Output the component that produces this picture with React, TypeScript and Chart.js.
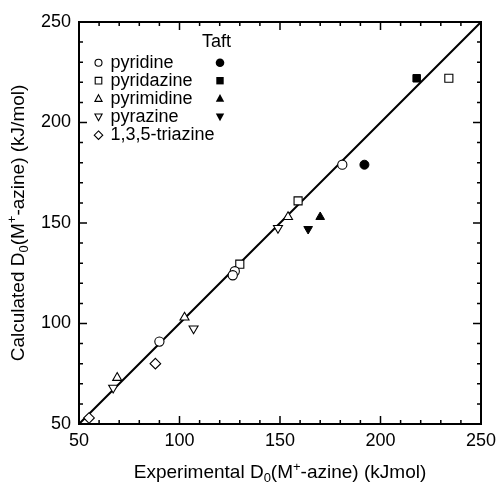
import React, { useEffect, useRef } from 'react';
import { Chart, registerables } from 'chart.js';

Chart.register(...registerables);

// Open markers: calculated vs experimental
const pyridineX = [127.5, 90, 126.5, 181];
const pyridineY = [126, 91, 124, 179];
const pyridazineX = [130, 159, 234];
const pyridazineY = [129.5, 161, 222];
const pyrimidineX = [69, 102.5, 154];
const pyrimidineY = [73, 103, 153];
const pyrazineX = [67, 107, 149];
const pyrazineY = [68, 97.5, 147.5];
const triazineX = [55, 88];
const triazineY = [53, 80];

// Filled markers: Taft
const taftPyridineX = [192];
const taftPyridineY = [179];
const taftPyridazineX = [218];
const taftPyridazineY = [222];
const taftPyrimidineX = [170];
const taftPyrimidineY = [153];
const taftPyrazineX = [164];
const taftPyrazineY = [147];

// y = x reference line
const lineX = [50, 250];
const lineY = [50, 250];

const axisMin = 50;
const axisMax = 250;
const majorStep = 50;
const minorStep = 10;

const legendNames = ['pyridine', 'pyridazine', 'pyrimidine', 'pyrazine', '1,3,5-triazine'];
const legendShapes = ['circle', 'square', 'triUp', 'triDown', 'diamond'];
const taftShapes = ['circle', 'square', 'triUp', 'triDown'];
const taftTitle = 'Taft';

const FONT = "'Liberation Sans', Arial, sans-serif";

const zip = (xs: number[], ys: number[]) => xs.map((x, i) => ({ x, y: ys[i] }));

function drawShape(ctx: CanvasRenderingContext2D, shape: string, x: number, y: number, s: number, filled: boolean) {
  ctx.beginPath();
  if (shape === 'circle') {
    ctx.arc(x, y, s, 0, Math.PI * 2);
  } else if (shape === 'square') {
    ctx.rect(x - s, y - s, 2 * s, 2 * s);
  } else if (shape === 'triUp') {
    ctx.moveTo(x, y - s * 1.1);
    ctx.lineTo(x + s, y + s * 0.75);
    ctx.lineTo(x - s, y + s * 0.75);
    ctx.closePath();
  } else if (shape === 'triDown') {
    ctx.moveTo(x, y + s * 1.1);
    ctx.lineTo(x + s, y - s * 0.75);
    ctx.lineTo(x - s, y - s * 0.75);
    ctx.closePath();
  } else if (shape === 'diamond') {
    ctx.moveTo(x, y - s * 1.25);
    ctx.lineTo(x + s * 1.25, y);
    ctx.lineTo(x, y + s * 1.25);
    ctx.lineTo(x - s * 1.25, y);
    ctx.closePath();
  }
  if (filled) {
    ctx.fillStyle = '#000';
    ctx.fill();
  } else {
    ctx.fillStyle = '#fff';
    ctx.fill();
    ctx.lineWidth = 1.1;
    ctx.strokeStyle = '#000';
    ctx.stroke();
  }
}

type Part = { t: string; kind: 'n' | 'sub' | 'sup' };

function drawRich(ctx: CanvasRenderingContext2D, parts: Part[], cx: number, baseY: number) {
  const big = `19px ${FONT}`;
  const small = `13px ${FONT}`;
  let total = 0;
  const widths = parts.map((p) => {
    ctx.font = p.kind === 'n' ? big : small;
    const w = ctx.measureText(p.t).width;
    total += w;
    return w;
  });
  let x = cx - total / 2;
  ctx.textAlign = 'left';
  ctx.textBaseline = 'alphabetic';
  ctx.fillStyle = '#000';
  parts.forEach((p, i) => {
    ctx.font = p.kind === 'n' ? big : small;
    const dy = p.kind === 'sub' ? 4 : p.kind === 'sup' ? -7.5 : 0;
    ctx.fillText(p.t, x, baseY + dy);
    x += widths[i];
  });
}

const xTitle: Part[] = [
  { t: 'Experimental D', kind: 'n' },
  { t: '0', kind: 'sub' },
  { t: '(M', kind: 'n' },
  { t: '+', kind: 'sup' },
  { t: '-azine) (kJmol)', kind: 'n' },
];
const yTitle: Part[] = [
  { t: 'Calculated D', kind: 'n' },
  { t: '0', kind: 'sub' },
  { t: '(M', kind: 'n' },
  { t: '+', kind: 'sup' },
  { t: '-azine) (kJ/mol)', kind: 'n' },
];

const decorPlugin = {
  id: 'decor',
  afterDraw(chart: any) {
    const ctx: CanvasRenderingContext2D = chart.ctx;
    const { left, right, top, bottom } = chart.chartArea;
    const xs = chart.scales.x;
    const ys = chart.scales.y;
    ctx.save();
    // frame
    ctx.strokeStyle = '#000';
    ctx.lineWidth = 2;
    ctx.strokeRect(left, top, right - left, bottom - top);
    // inward ticks on all sides
    ctx.lineWidth = 1.5;
    for (let v = axisMin; v <= axisMax; v += minorStep) {
      const len = v % majorStep === 0 ? 8 : 4;
      const px = xs.getPixelForValue(v);
      const py = ys.getPixelForValue(v);
      ctx.beginPath();
      ctx.moveTo(px, bottom);
      ctx.lineTo(px, bottom - len);
      ctx.moveTo(px, top);
      ctx.lineTo(px, top + len);
      ctx.moveTo(left, py);
      ctx.lineTo(left + len, py);
      ctx.moveTo(right, py);
      ctx.lineTo(right - len, py);
      ctx.stroke();
    }
    // axis titles
    drawRich(ctx, xTitle, (left + right) / 2, 478);
    ctx.save();
    ctx.translate(23.5, (top + bottom) / 2);
    ctx.rotate(-Math.PI / 2);
    drawRich(ctx, yTitle, 0, 0);
    ctx.restore();
    // legend
    ctx.font = `18px ${FONT}`;
    ctx.fillStyle = '#000';
    ctx.textAlign = 'left';
    ctx.textBaseline = 'alphabetic';
    ctx.fillText(taftTitle, 202, 46.5);
    const rowY = [62.7, 80.7, 98.7, 116.7, 135.2];
    legendNames.forEach((name, i) => {
      const y = rowY[i];
      const sh = legendShapes[i];
      const s = sh === 'circle' ? 3.5 : sh === 'square' ? 3.3 : sh === 'diamond' ? 3.4 : 3.6;
      drawShape(ctx, sh, 98.5, y, s, false);
      ctx.fillStyle = '#000';
      ctx.fillText(name, 110.5, y + 5);
    });
    taftShapes.forEach((sh, i) => {
      const y = rowY[i];
      const s = sh === 'circle' ? 4.3 : sh === 'square' ? 3.7 : 4.2;
      drawShape(ctx, sh, 220, y, s, true);
    });
    ctx.restore();
  },
};

const openStyle = { backgroundColor: '#fff', borderColor: '#000', borderWidth: 1.1 };
const filledStyle = { backgroundColor: '#000', borderColor: '#000', borderWidth: 1 };

export default function App() {
  const ref = useRef<HTMLCanvasElement>(null);
  useEffect(() => {
    if (!ref.current) return;
    const chart = new Chart(ref.current, {
      type: 'scatter',
      data: {
        datasets: [
          { label: 'pyridine', data: zip(pyridineX, pyridineY), pointStyle: 'circle', pointRadius: 4.6, ...openStyle, order: 1 },
          { label: 'pyridazine', data: zip(pyridazineX, pyridazineY), pointStyle: 'rect', pointRadius: 5.7, ...openStyle, order: 1 },
          { label: 'pyrimidine', data: zip(pyrimidineX, pyrimidineY), pointStyle: 'triangle', pointRadius: 5.2, ...openStyle, order: 1 },
          { label: 'pyrazine', data: zip(pyrazineX, pyrazineY), pointStyle: 'triangle', rotation: 180, pointRadius: 5.2, ...openStyle, order: 1 },
          { label: '1,3,5-triazine', data: zip(triazineX, triazineY), pointStyle: 'rectRot', pointRadius: 5.3, ...openStyle, order: 1 },
          { label: 'Taft pyridine', data: zip(taftPyridineX, taftPyridineY), pointStyle: 'circle', pointRadius: 4.5, ...filledStyle, order: 1 },
          { label: 'Taft pyridazine', data: zip(taftPyridazineX, taftPyridazineY), pointStyle: 'rect', pointRadius: 5.3, ...filledStyle, order: 1 },
          { label: 'Taft pyrimidine', data: zip(taftPyrimidineX, taftPyrimidineY), pointStyle: 'triangle', pointRadius: 5, ...filledStyle, order: 1 },
          { label: 'Taft pyrazine', data: zip(taftPyrazineX, taftPyrazineY), pointStyle: 'triangle', rotation: 180, pointRadius: 5, ...filledStyle, order: 1 },
          {
            type: 'line',
            label: 'y=x',
            data: zip(lineX, lineY),
            borderColor: '#000',
            borderWidth: 2,
            pointRadius: 0,
            showLine: true,
            fill: false,
            order: 5,
          } as any,
        ],
      },
      options: {
        animation: false,
        responsive: false,
        maintainAspectRatio: false,
        layout: { padding: { top: 22, right: 16, bottom: 0, left: 0 } },
        plugins: { legend: { display: false }, tooltip: { enabled: false }, title: { display: false } },
        scales: {
          x: {
            type: 'linear',
            min: axisMin,
            max: axisMax,
            grid: { display: false, drawTicks: false },
            border: { display: false },
            ticks: { stepSize: majorStep, color: '#000', padding: 6, font: { size: 18, family: FONT }, maxRotation: 0 },
            afterFit: (s: any) => {
              s.height = 60;
              s.paddingLeft = 0;
              s.paddingRight = 0;
            },
          },
          y: {
            type: 'linear',
            min: axisMin,
            max: axisMax,
            grid: { display: false, drawTicks: false },
            border: { display: false },
            ticks: { stepSize: majorStep, color: '#000', padding: 8, font: { size: 18, family: FONT } },
            afterFit: (s: any) => {
              s.width = 79;
              s.paddingTop = 0;
              s.paddingBottom = 0;
            },
          },
        },
      },
      plugins: [decorPlugin],
    } as any);
    return () => chart.destroy();
  }, []);
  return (
    <div style={{ position: 'fixed', left: 0, top: 0, width: 497, height: 484, background: '#fff' }}>
      <canvas ref={ref} width={497} height={484} style={{ width: 497, height: 484, display: 'block' }} />
    </div>
  );
}
